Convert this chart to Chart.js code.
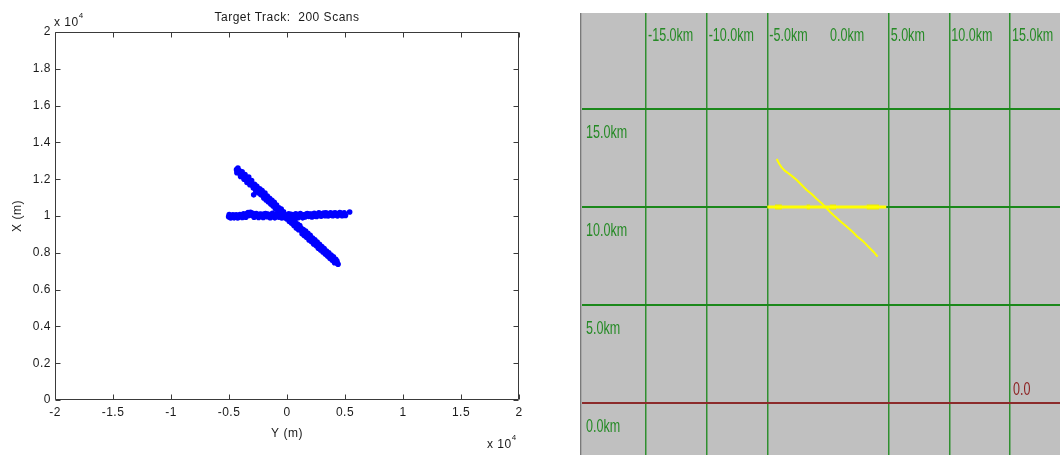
<!DOCTYPE html>
<html><head><meta charset="utf-8">
<script src="https://cdn.jsdelivr.net/npm/chart.js@4.4.1/dist/chart.umd.min.js"></script>
<style>
html,body{margin:0;padding:0;background:#fff;width:1060px;height:455px;overflow:hidden}
#left{position:absolute;left:0;top:0}
#right{position:absolute;left:580px;top:13px}
</style></head><body>
<canvas id="left" width="540" height="455"></canvas>
<canvas id="right" width="480" height="442"></canvas>
<script>
// ---------- Left panel data (metres) ----------
const plotTitle = 'Target Track:  200 Scans';
const xAxisTitle = 'Y (m)';
const yAxisTitle = 'X (m)';
const exponentText = 'x 10';
const exponentPower = '4';
// horizontal track (Y along horizontal axis, X along vertical axis)
const hTrackY = [-5030,-4960,-4880,-4790,-4710,-4630,-4510,-4420,-4330,-4190,-4120,-3990,-3910,-3820,-3690,-3610,-3480,-3420,-3290,-3210,-3080,-3020,-2880,-2790,-2710,-2590,-2520,-2380,-2310,-2190,-2120,-1980,-1920,-1790,-1720,-1590,-1510,-1390,-1320,-1180,-1110,-990,-920,-790,-710,-590,-520,-390,-310,-190,-120,10,80,210,290,410,480,610,690,820,880,1010,1090,1210,1290,1420,1480,1610,1690,1820,1880,2010,2090,2210,2280,2410,2490,2620,2680,2810,2890,3020,3080,3210,3290,3410,3490,3620,3680,3810,3890,4010,4090,4220,4280,4410,4490,4610,4690,4800,4880,4960,5040,5400];
const hTrackX = [9960,10010,9930,9990,10020,9950,9990,9960,10010,9940,9980,10030,9970,10000,10060,9990,10080,10140,10030,10100,10150,10040,10080,10010,10070,9990,10040,10090,10020,9970,10050,10100,10000,10040,9960,10060,10020,9980,10070,10010,9950,10040,10090,10000,9940,10050,10010,9970,10060,9920,10000,10050,9960,10020,9910,10040,9990,10060,9960,10030,10080,9990,10050,10010,9960,10060,10020,10090,10000,10050,9980,10040,10100,10020,10060,9990,10080,10040,10110,10030,10070,10120,10050,10090,10020,10080,10130,10060,10100,10040,10090,10140,10070,10110,10060,10120,10090,10160,10080,10120,10050,10100,10030,10220];
const hTrackY2 = [-4980,-4850,-4660,-4560,-4380,-4250,-4060,-3860,-3740,-3550,-3350,-3150,-2950,-2840,-2650,-2450,-2250,-2050,-1850,-1650,-1450,-1250,-1050,-850,-650,-450,-250,-50,150,350,550,750,950,1150,1350,1550,1750,1950,2150,2350,2550,2750,2950,3150,3350,3550,3750,3950,4150,4350,4550,4750,4930];
const hTrackX2 = [10080,9890,10070,9900,10060,9890,10080,9920,10120,9930,10190,10200,10150,9930,10130,9920,10110,9920,10130,10110,9910,10140,9900,10150,10120,9890,10110,9880,10120,10090,9900,10120,9910,10130,9900,9950,10130,10110,9950,10140,9970,10170,9990,10160,10180,10000,10170,10010,10180,10000,10190,10010,10170];
// diagonal track
const dTrackY = [-4350,-4280,-4200,-4150,-4050,-3980,-3900,-3820,-3750,-3650,-3580,-3500,-3420,-3350,-3250,-3180,-3100,-3000,-2950,-2870,-2850,-2750,-2650,-2560,-2480,-2400,-2300,-2200,-2120,-2050,-1950,-1850,-1750,-1650,-1550,-1450,-1350,-1250,-1150,-1050,-950,-850,-750,-650,-550,-450,-350,-250,-150,-50,50,150,250,350,450,550,650,750,850,950,1050,1150,1250,1350,1450,1550,1650,1750,1850,1950,2050,2150,2250,2350,2450,2550,2650,2750,2850,2950,3050,3150,3250,3350,3450,3550,3650,3750,3850,3950,4050,4150,4250,4350,4300];
const dTrackX = [12520,12450,12480,12350,12330,12240,12300,12150,12200,12060,12120,11980,11960,12020,11850,11790,11880,11700,11640,11150,11600,11660,11470,11520,11380,11320,11400,11220,11280,11100,11150,11000,10950,10920,10830,10780,10700,10620,10660,10520,10480,10430,10330,10290,10250,10180,10130,10060,10020,9950,9880,9850,9790,9700,9680,9590,9620,9480,9420,9360,9400,9250,9220,9150,9080,9120,8990,8920,8950,8800,8760,8700,8640,8560,8600,8460,8420,8350,8300,8220,8170,8120,8050,7990,7930,7890,7820,7780,7700,7640,7600,7520,7480,7430,7550];
const dTrackY2 = [-4320,-4230,-4100,-4000,-3870,-3700,-3620,-3450,-3300,-3200,-3050,-2900,-2800,-2700,-2600,-2450,-2350,-2250,-2150,-2000,-1900,-1800,-1700,-1600,-1500,-1400,-1300,-1200,-1100,-1000,-900,-700,-600,-500,-300,-200,0,100,200,300,400,500,600,700,800,900,1000,1100,1200,1300,1400,1500,1600,1700,1800,1900,2000,2100,2200,2300,2400,2500,2600,2700,2800,2900,3000,3100,3200,3300,3400,3500,3600,3700,3800,3900,4000,4100,4200,4400];
const dTrackX2 = [12350,12600,12460,12150,12400,12000,12250,11820,12120,11700,11920,11520,11720,11380,11620,11250,11480,11150,11380,10980,11250,10870,11080,10760,10960,10650,10850,10540,10740,10400,10600,10440,10170,10380,10230,9930,9840,10030,9700,9920,9600,9800,9480,9680,9350,9560,9250,9480,9350,9030,9260,8930,9180,8830,9060,8700,8950,8620,8800,8480,8700,8390,8580,8250,8460,8150,8340,8040,8230,7930,8100,7820,8000,7700,7880,7590,7780,7460,7640,7380];
const leftXRange = [-20000, 20000], leftXStep = 5000;
const leftYRange = [0, 20000], leftYStep = 2000;

// ---------- Right panel data (km) ----------
const rDiagX = [-4.23,-4.01,-3.82,-3.54,-3.27,-2.91,-2.58,-2.17,-1.76,-1.35,-0.93,-0.52,-0.16,0.16,0.58,0.99,1.48,1.95,2.36,2.86,3.32,3.74,4.09];
const rDiagY = [12.45,12.19,12.02,11.84,11.72,11.55,11.38,11.12,10.87,10.66,10.41,10.19,9.97,9.76,9.51,9.29,9.03,8.78,8.52,8.27,7.98,7.72,7.47];
const rHorizX = [-5.0, 4.8];
const rHorizY = [10.0, 10.0];
const markFrom = [-4.37,-1.76,0.16,3.19];
const markTo   = [-3.81,-1.48,0.66,4.20];
const markAt = 10.0;
const gridKmX = [-15,-10,-5,5,10,15];
const gridKmY = [0,5,10,15];
const topLabelKm = [-15,-10,-5,0,5,10,15];
const topLabels = ['-15.0km','-10.0km','-5.0km','0.0km','5.0km','10.0km','15.0km'];
const sideLabelKm = [15,10,5,0];
const sideLabels = ['15.0km','10.0km','5.0km','0.0km'];
const originLabel = '0.0';
const originLabelAtKm = 15;

// ---------- Left chart ----------
const FONT = "'Liberation Sans', Arial, Helvetica, sans-serif";
const zip = (a, b) => a.map((v, i) => ({x: v, y: b[i]}));
const fmt = v => String(parseFloat((v / 10000).toFixed(1)));

const matlabBox = {
  id: 'matlabBox',
  beforeDraw(chart) { try { chart.ctx.letterSpacing = '0.5px'; } catch (e) {} },
  afterDraw(chart) {
    const {ctx, chartArea: a, scales: {x, y}} = chart;
    ctx.save();
    ctx.strokeStyle = '#3a3a3a';
    ctx.lineWidth = 1;
    const L = Math.round(a.left) + 0.5, R = Math.round(a.right) - 0.5;
    const T = Math.round(a.top) + 0.5, B = Math.round(a.bottom) - 0.5;
    ctx.beginPath();
    ctx.rect(L, T, R - L, B - T);
    x.ticks.forEach(t => {
      const p = Math.round(x.getPixelForValue(t.value)) + 0.5;
      ctx.moveTo(p, B); ctx.lineTo(p, B - 5);
      ctx.moveTo(p, T); ctx.lineTo(p, T + 5);
    });
    y.ticks.forEach(t => {
      const p = Math.round(y.getPixelForValue(t.value)) + 0.5;
      ctx.moveTo(L, p); ctx.lineTo(L + 5, p);
      ctx.moveTo(R, p); ctx.lineTo(R - 5, p);
    });
    ctx.stroke();
    try { ctx.letterSpacing = '0.5px'; } catch (e) {}
    ctx.fillStyle = '#1a1a1a';
    ctx.font = '12px ' + FONT;
    ctx.textAlign = 'center'; ctx.textBaseline = 'middle';
    const cx = (a.left + a.right) / 2;
    ctx.fillText(plotTitle, cx, 17.5);
    ctx.fillText(xAxisTitle, cx, 434);
    ctx.save();
    ctx.translate(18, (a.top + a.bottom) / 2);
    ctx.rotate(-Math.PI / 2);
    ctx.fillText(yAxisTitle, 0, 0);
    ctx.restore();
    const drawExp = (x0, base) => {
      ctx.textAlign = 'left'; ctx.textBaseline = 'alphabetic';
      ctx.font = '12px ' + FONT;
      ctx.fillText(exponentText, x0, base);
      const w = ctx.measureText(exponentText).width;
      ctx.font = '8px ' + FONT;
      ctx.fillText(exponentPower, x0 + w, base - 8);
    };
    drawExp(a.left - 1, 26);
    drawExp(487, 448);
    ctx.restore();
  }
};

const dot = {backgroundColor: '#0000ff', borderWidth: 0, pointRadius: 2.8};
new Chart(document.getElementById('left'), {
  type: 'scatter',
  data: {
    datasets: [
      {data: zip(hTrackY, hTrackX), ...dot},
      {data: zip(hTrackY2, hTrackX2), ...dot},
      {data: zip(dTrackY, dTrackX), ...dot},
      {data: zip(dTrackY2, dTrackX2), ...dot}
    ]
  },
  options: {
    responsive: false, animation: false, devicePixelRatio: 1,
    layout: {padding: {left: 0, top: 32, right: 21, bottom: 0}},
    plugins: {legend: {display: false}, tooltip: {enabled: false}, title: {display: false}},
    scales: {
      x: {
        type: 'linear', min: leftXRange[0], max: leftXRange[1],
        grid: {display: true, drawOnChartArea: false, drawTicks: false},
        border: {display: false},
        ticks: {stepSize: leftXStep, padding: 5, maxRotation: 0, autoSkip: false, color: '#1a1a1a',
                font: {family: FONT, size: 12}, callback: v => fmt(v)},
        afterFit: s => { s.height = 55; }
      },
      y: {
        type: 'linear', min: leftYRange[0], max: leftYRange[1],
        grid: {display: true, drawOnChartArea: false, drawTicks: false},
        border: {display: false},
        ticks: {stepSize: leftYStep, padding: 4, autoSkip: false, color: '#1a1a1a',
                font: {family: FONT, size: 12}, callback: v => fmt(v)},
        afterFit: s => { s.width = 55; }
      }
    }
  },
  plugins: [matlabBox]
});

// ---------- Right chart ----------
const radarPanel = {
  id: 'radarPanel',
  beforeDraw(chart) {
    const {ctx, chartArea: a} = chart;
    ctx.save();
    ctx.fillStyle = '#c0c0c0';
    ctx.fillRect(a.left, a.top, a.right - a.left, a.bottom - a.top);
    ctx.fillStyle = '#7a7a7a';
    ctx.fillRect(0, 0, 1, chart.height);
    ctx.fillStyle = '#a8a8a8';
    ctx.fillRect(1, 0, 1, chart.height);
    ctx.restore();
  },
  afterDraw(chart) {
    const {ctx, chartArea: a, scales: {x, y}} = chart;
    const sx = 0.66;
    const put = (txt, px, py, color) => {
      ctx.save();
      ctx.fillStyle = color;
      ctx.translate(px, py);
      ctx.scale(sx, 1);
      ctx.fillText(txt, 0, 0);
      ctx.restore();
    };
    ctx.save();
    ctx.font = '19px ' + FONT;
    ctx.textAlign = 'left'; ctx.textBaseline = 'alphabetic';
    topLabelKm.forEach((v, i) => put(topLabels[i], x.getPixelForValue(v) + 2, 28, '#258a25'));
    sideLabelKm.forEach((v, i) => put(sideLabels[i], a.left + 4, y.getPixelForValue(v) + 29, '#258a25'));
    put(originLabel, x.getPixelForValue(originLabelAtKm) + 3, y.getPixelForValue(0) - 8, '#8b1f1f');
    ctx.restore();
  }
};

const rightSets = [
  {data: zip(rHorizX, rHorizY), showLine: true, borderColor: '#ffff00', borderWidth: 3, pointRadius: 0},
  {data: zip(rDiagX, rDiagY), showLine: true, borderColor: '#ffff00', borderWidth: 2, pointRadius: 0}
];
markFrom.forEach((f, i) => rightSets.push({data: [{x: f, y: markAt}, {x: markTo[i], y: markAt}], showLine: true,
  borderColor: '#e8e800', borderWidth: 5, pointRadius: 0}));
markFrom.forEach((f, i) => rightSets.push({data: [{x: f, y: markAt}, {x: markTo[i], y: markAt}], showLine: true,
  borderColor: '#2b7a1e', borderWidth: 2, pointRadius: 0}));

new Chart(document.getElementById('right'), {
  type: 'scatter',
  data: {datasets: rightSets},
  options: {
    responsive: false, animation: false, devicePixelRatio: 1,
    layout: {padding: {left: 2, top: 0, right: 0, bottom: 0}},
    plugins: {legend: {display: false}, tooltip: {enabled: false}},
    elements: {line: {tension: 0}},
    scales: {
      x: {
        type: 'linear', min: -20.275, max: 19.12,
        afterBuildTicks: s => { s.ticks = gridKmX.map(v => ({value: v})); },
        ticks: {display: false},
        grid: {color: '#2f8f2f', lineWidth: 1.5, drawTicks: false},
        border: {display: false},
        afterFit: s => { s.height = 0; }
      },
      y: {
        type: 'linear', min: -2.653, max: 19.898,
        afterBuildTicks: s => { s.ticks = gridKmY.map(v => ({value: v})); },
        ticks: {display: false},
        grid: {color: c => (c.tick && c.tick.value === 0) ? '#8c2b2b' : '#1b881b', lineWidth: 2, drawTicks: false},
        border: {display: false},
        afterFit: s => { s.width = 0; }
      }
    }
  },
  plugins: [radarPanel]
});
</script>
</body></html>
